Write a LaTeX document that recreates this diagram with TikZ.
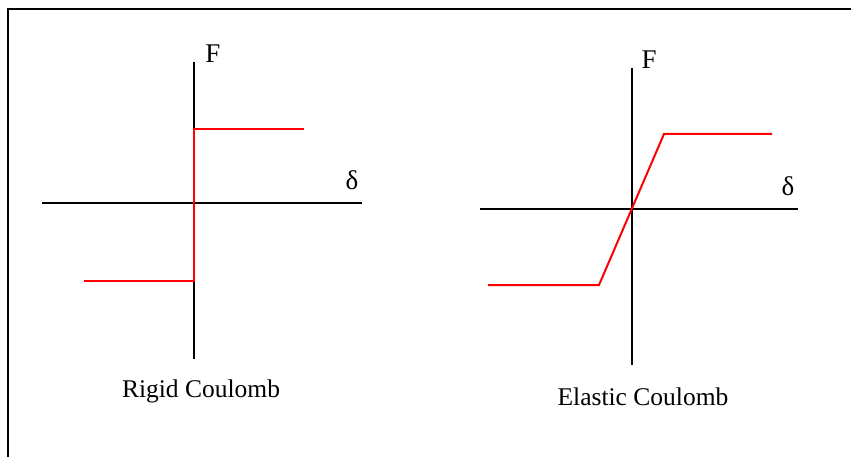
\documentclass[tikz,border=0pt]{standalone}
\usepackage{fontspec}
\setmainfont{Liberation Serif}
\tikzset{
  axis/.style={line width=2pt, black},
  curve/.style={line width=2pt, red, line join=miter},
  frame/.style={line width=2.6pt, black},
  lbl/.style={inner sep=0pt, font=\fontsize{27}{31}\selectfont},
  captext/.style={inner sep=0pt, font=\fontsize{25.5}{29}\selectfont},
}
\begin{document}
\begin{tikzpicture}[x=1pt, y=-1pt]
\useasboundingbox (0,0) rectangle (851,457);
% frame
\coordinate (f1) at (8,457);
\coordinate (f2) at (8,9);
\coordinate (f3) at (851,9);
\draw[frame] (f1) -- (f2) -- (f3);

% ---- Rigid Coulomb ----
\coordinate (aT) at (194,62);
\coordinate (aB) at (194,359);
\coordinate (aL) at (42,203);
\coordinate (aR) at (362,203);
\draw[axis] (aT) -- (aB);
\draw[axis] (aL) -- (aR);
\coordinate (r1) at (84,281);
\coordinate (r2) at (194,281);
\coordinate (r3) at (194,129);
\coordinate (r4) at (304,129);
\draw[curve] (r1) -- (r2) -- (r3) -- (r4);
\node[lbl] (F1) at (213,54) {F};
\node[lbl] (d1) at (352,180) {δ};
\node[captext] (t1) at (201,391) {Rigid Coulomb};

% ---- Elastic Coulomb ----
\coordinate (bT) at (632,68);
\coordinate (bB) at (632,365);
\coordinate (bL) at (480,209);
\coordinate (bR) at (798,209);
\draw[axis] (bT) -- (bB);
\draw[axis] (bL) -- (bR);
\coordinate (e1) at (488,285);
\coordinate (e2) at (599,285);
\coordinate (e3) at (664,134);
\coordinate (e4) at (772,134);
\draw[curve] (e1) -- (e2) -- (e3) -- (e4);
\node[lbl] (F2) at (649,60) {F};
\node[lbl] (d2) at (788,186) {δ};
\node[captext] (t2) at (643,397) {Elastic Coulomb};
\end{tikzpicture}
\end{document}
